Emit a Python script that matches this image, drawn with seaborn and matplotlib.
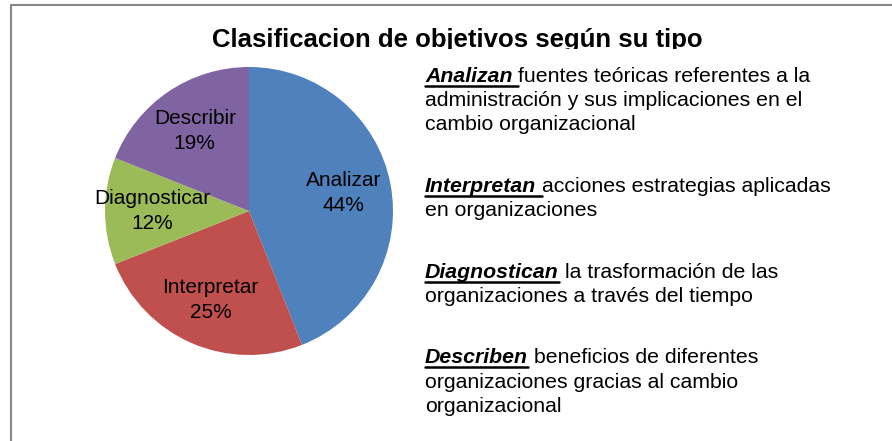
import matplotlib
matplotlib.use('Agg')
import matplotlib.pyplot as plt
import seaborn as sns
from matplotlib.lines import Line2D
from matplotlib.patches import Rectangle

# Data
categories = ['Analizar', 'Interpretar', 'Diagnosticar', 'Describir']
values = [44, 25, 12, 19]
colors = ['#4F81BD', '#C0504D', '#9BBB59', '#8064A2']

keywords = ['Analizan', 'Interpretan', 'Diagnostican', 'Describen']
descriptions = [
    ['fuentes teóricas referentes a la',
     'administración y sus implicaciones en el',
     'cambio organizacional'],
    ['acciones estrategias aplicadas',
     'en organizaciones'],
    ['la trasformación de las',
     'organizaciones a través del tiempo'],
    ['beneficios de diferentes',
     'organizaciones gracias al cambio',
     'organizacional'],
]
underline_space = [True, True, False, False]

title = 'Clasificacion de objetivos según su tipo'

sns.set_theme(style='white')
plt.rcParams['font.family'] = ['Liberation Sans', 'DejaVu Sans']

W, H = 892, 441
fig = plt.figure(figsize=(W / 100, H / 100), dpi=100)
fig.patch.set_facecolor('white')

# Pie chart
cx, cy, r = 249, 211, 144
ax = fig.add_axes([(cx - r) / W, 1 - (cy + r) / H, 2 * r / W, 2 * r / H])
wedges, texts, autotexts = ax.pie(
    values, colors=colors, startangle=90, counterclock=False,
    autopct='%1.0f%%', pctdistance=0.67,
    wedgeprops=dict(linewidth=0, edgecolor='none'),
    textprops=dict(fontsize=15, color='black'))
for t, cat in zip(autotexts, categories):
    t.set_text(f'{cat}\n{t.get_text()}')
    t.set_linespacing(1.4)
ax.set_xlim(-1, 1)
ax.set_ylim(-1, 1)

# Title (descenders clipped like in the original)
ttl = fig.text(457.5 / W, 1 - 47 / H, title, ha='center', va='baseline',
               fontsize=18.5, fontweight='bold', color='black')
clip = Rectangle((0, 1 - 49 / H), 1, 49 / H, transform=fig.transFigure)
ttl.set_clip_path(clip)

# Side text
renderer = fig.canvas.get_renderer()
fs = 15.3
step = 24.5
x0 = 425
tmp = fig.text(0, 0, 'x x', fontsize=fs)
w1 = tmp.get_window_extent(renderer).width
tmp.set_text('xx')
space = w1 - tmp.get_window_extent(renderer).width
tmp.remove()

y = 81.5
for kw, lines, sp in zip(keywords, descriptions, underline_space):
    k = fig.text(x0 / W, 1 - y / H, kw, fontsize=fs, fontweight='bold',
                 style='italic', va='baseline', color='black')
    bb = k.get_window_extent(renderer)
    ul_end = bb.x1 + (space if sp else 0)
    fig.add_artist(Line2D([x0 / W, ul_end / W], [1 - (y + 4) / H] * 2,
                          transform=fig.transFigure, color='black', lw=1.8))
    fig.text((bb.x1 + space) / W, 1 - y / H, lines[0], fontsize=fs,
             va='baseline', color='black')
    for i, line in enumerate(lines[1:], 1):
        fig.text(x0 / W, 1 - (y + i * step) / H, line, fontsize=fs,
                 va='baseline', color='black')
    y += (len(lines) - 1) * step + 2.5 * step

# Chart border (left and top visible)
fig.add_artist(Line2D([11 / W, 11 / W, 1.01], [-0.01, 1 - 5 / H, 1 - 5 / H],
                      transform=fig.transFigure, color='#878787', lw=1.5))

fig.savefig('out.png', dpi=100)
